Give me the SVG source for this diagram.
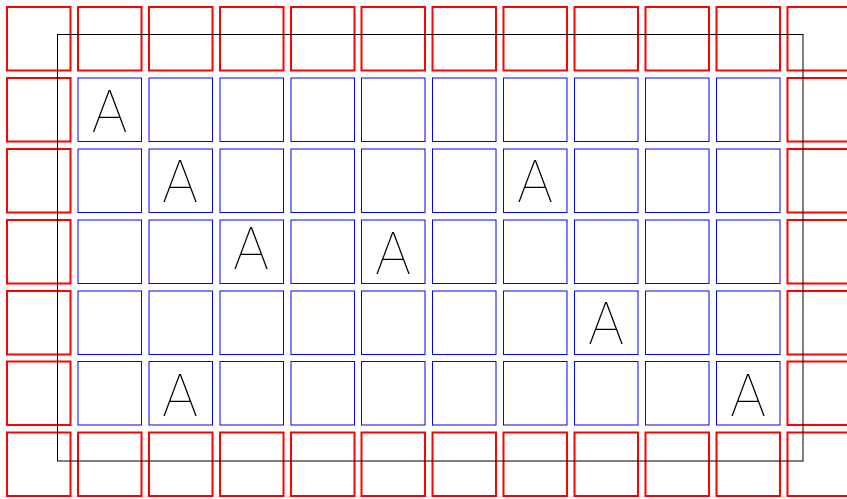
<svg xmlns="http://www.w3.org/2000/svg" width="847" height="499" viewBox="0 0 847 499">
<defs>
<style>
.r{fill:none;stroke:#ff0000;stroke-width:2}
.b{fill:none;stroke:#0000ff;stroke-width:1}
.f{fill:none;stroke:#000;stroke-width:1}
.t{font-family:Inter,"Liberation Sans",sans-serif;font-weight:100;font-size:58px;text-anchor:middle;fill:#000}
</style>
</defs>
<rect width="847" height="499" fill="#fff"/>
<g id="red-border">
<rect class="r" x="7" y="7" width="63.5" height="63.5"/><rect class="r" x="78" y="7" width="63.5" height="63.5"/><rect class="r" x="149" y="7" width="63.5" height="63.5"/><rect class="r" x="220" y="7" width="63.5" height="63.5"/><rect class="r" x="291" y="7" width="63.5" height="63.5"/><rect class="r" x="361.5" y="7" width="63.5" height="63.5"/><rect class="r" x="432.5" y="7" width="63.5" height="63.5"/><rect class="r" x="503.5" y="7" width="63.5" height="63.5"/><rect class="r" x="574.5" y="7" width="63.5" height="63.5"/><rect class="r" x="645.5" y="7" width="63.5" height="63.5"/><rect class="r" x="716.5" y="7" width="63.5" height="63.5"/><rect class="r" x="787.5" y="7" width="63.5" height="63.5"/>
<rect class="r" x="7" y="432.5" width="63.5" height="63.5"/><rect class="r" x="78" y="432.5" width="63.5" height="63.5"/><rect class="r" x="149" y="432.5" width="63.5" height="63.5"/><rect class="r" x="220" y="432.5" width="63.5" height="63.5"/><rect class="r" x="291" y="432.5" width="63.5" height="63.5"/><rect class="r" x="361.5" y="432.5" width="63.5" height="63.5"/><rect class="r" x="432.5" y="432.5" width="63.5" height="63.5"/><rect class="r" x="503.5" y="432.5" width="63.5" height="63.5"/><rect class="r" x="574.5" y="432.5" width="63.5" height="63.5"/><rect class="r" x="645.5" y="432.5" width="63.5" height="63.5"/><rect class="r" x="716.5" y="432.5" width="63.5" height="63.5"/><rect class="r" x="787.5" y="432.5" width="63.5" height="63.5"/>
<rect class="r" x="7" y="78" width="63.5" height="63.5"/><rect class="r" x="7" y="149" width="63.5" height="63.5"/><rect class="r" x="7" y="220" width="63.5" height="63.5"/><rect class="r" x="7" y="291" width="63.5" height="63.5"/><rect class="r" x="7" y="361.5" width="63.5" height="63.5"/>
<rect class="r" x="787.5" y="78" width="63.5" height="63.5"/><rect class="r" x="787.5" y="149" width="63.5" height="63.5"/><rect class="r" x="787.5" y="220" width="63.5" height="63.5"/><rect class="r" x="787.5" y="291" width="63.5" height="63.5"/><rect class="r" x="787.5" y="361.5" width="63.5" height="63.5"/>
</g>
<g id="blue-cells">
<rect class="b" x="78" y="78" width="63.5" height="63.5"/><rect class="b" x="149" y="78" width="63.5" height="63.5"/><rect class="b" x="220" y="78" width="63.5" height="63.5"/><rect class="b" x="291" y="78" width="63.5" height="63.5"/><rect class="b" x="361.5" y="78" width="63.5" height="63.5"/><rect class="b" x="432.5" y="78" width="63.5" height="63.5"/><rect class="b" x="503.5" y="78" width="63.5" height="63.5"/><rect class="b" x="574.5" y="78" width="63.5" height="63.5"/><rect class="b" x="645.5" y="78" width="63.5" height="63.5"/><rect class="b" x="716.5" y="78" width="63.5" height="63.5"/>
<rect class="b" x="78" y="149" width="63.5" height="63.5"/><rect class="b" x="149" y="149" width="63.5" height="63.5"/><rect class="b" x="220" y="149" width="63.5" height="63.5"/><rect class="b" x="291" y="149" width="63.5" height="63.5"/><rect class="b" x="361.5" y="149" width="63.5" height="63.5"/><rect class="b" x="432.5" y="149" width="63.5" height="63.5"/><rect class="b" x="503.5" y="149" width="63.5" height="63.5"/><rect class="b" x="574.5" y="149" width="63.5" height="63.5"/><rect class="b" x="645.5" y="149" width="63.5" height="63.5"/><rect class="b" x="716.5" y="149" width="63.5" height="63.5"/>
<rect class="b" x="78" y="220" width="63.5" height="63.5"/><rect class="b" x="149" y="220" width="63.5" height="63.5"/><rect class="b" x="220" y="220" width="63.5" height="63.5"/><rect class="b" x="291" y="220" width="63.5" height="63.5"/><rect class="b" x="361.5" y="220" width="63.5" height="63.5"/><rect class="b" x="432.5" y="220" width="63.5" height="63.5"/><rect class="b" x="503.5" y="220" width="63.5" height="63.5"/><rect class="b" x="574.5" y="220" width="63.5" height="63.5"/><rect class="b" x="645.5" y="220" width="63.5" height="63.5"/><rect class="b" x="716.5" y="220" width="63.5" height="63.5"/>
<rect class="b" x="78" y="291" width="63.5" height="63.5"/><rect class="b" x="149" y="291" width="63.5" height="63.5"/><rect class="b" x="220" y="291" width="63.5" height="63.5"/><rect class="b" x="291" y="291" width="63.5" height="63.5"/><rect class="b" x="361.5" y="291" width="63.5" height="63.5"/><rect class="b" x="432.5" y="291" width="63.5" height="63.5"/><rect class="b" x="503.5" y="291" width="63.5" height="63.5"/><rect class="b" x="574.5" y="291" width="63.5" height="63.5"/><rect class="b" x="645.5" y="291" width="63.5" height="63.5"/><rect class="b" x="716.5" y="291" width="63.5" height="63.5"/>
<rect class="b" x="78" y="361.5" width="63.5" height="63.5"/><rect class="b" x="149" y="361.5" width="63.5" height="63.5"/><rect class="b" x="220" y="361.5" width="63.5" height="63.5"/><rect class="b" x="291" y="361.5" width="63.5" height="63.5"/><rect class="b" x="361.5" y="361.5" width="63.5" height="63.5"/><rect class="b" x="432.5" y="361.5" width="63.5" height="63.5"/><rect class="b" x="503.5" y="361.5" width="63.5" height="63.5"/><rect class="b" x="574.5" y="361.5" width="63.5" height="63.5"/><rect class="b" x="645.5" y="361.5" width="63.5" height="63.5"/><rect class="b" x="716.5" y="361.5" width="63.5" height="63.5"/>
</g>
<g id="frame"><rect class="f" x="57.5" y="34.5" width="745.5" height="426.5"/></g>
<g id="labels">
<text class="t" x="109.5" y="131.5">A</text>
<text class="t" x="180" y="202">A</text>
<text class="t" x="535" y="202">A</text>
<text class="t" x="251" y="268.5">A</text>
<text class="t" x="393" y="273.5">A</text>
<text class="t" x="606" y="344">A</text>
<text class="t" x="180" y="415.5">A</text>
<text class="t" x="748" y="415.5">A</text>
</g>
</svg>
